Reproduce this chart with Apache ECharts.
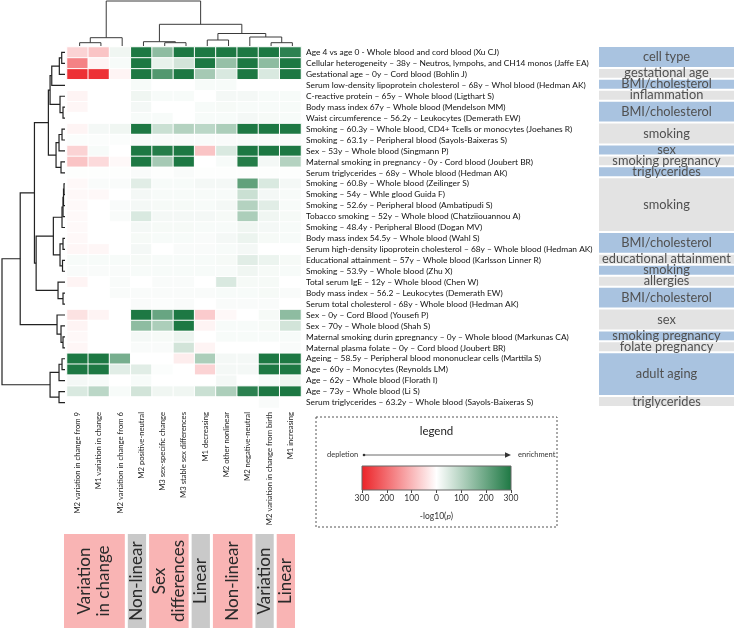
<!DOCTYPE html>
<html><head><meta charset="utf-8">
<script src="https://cdn.jsdelivr.net/npm/echarts@6/dist/echarts.min.js"></script>
<style>html,body{margin:0;padding:0;background:#fff}#c{width:736px;height:629px}</style>
</head><body><div id="c"></div>
<script>
// ---------- DATA ----------
const columns = [
  'M2 variation in change from 9','M1 variation in change','M2 variation in change from 6',
  'M2 positive-neutral','M3 sex-specific change','M3 stable sex differences','M1 decreasing',
  'M2 other nonlinear','M2 negative-neutral','M2 variation in change from birth','M1 increasing'
];
const rows = [
  'Age 4 vs age 0 - Whole blood and cord blood (Xu CJ)',
  'Cellular heterogeneity – 38y – Neutros, lympohs, and CH14 monos (Jaffe EA)',
  'Gestational age – 0y – Cord blood (Bohlin J)',
  'Serum low-density lipoprotein cholesterol – 68y – Whol blood (Hedman AK)',
  'C-reactive protein – 65y – Whole blood (Ligthart S)',
  'Body mass index 67y – Whole blood (Mendelson MM)',
  'Waist circumference – 56.2y – Leukocytes (Demerath EW)',
  'Smoking – 60.3y – Whole blood, CD4+ Tcells or monocytes (Joehanes R)',
  'Smoking – 63.1y – Peripheral blood (Sayols-Baixeras S)',
  'Sex – 53y – Whole blood (Singmann P)',
  'Maternal smoking in pregnancy - 0y - Cord blood (Joubert BR)',
  'Serum triglycerides – 68y – Whole blood (Hedman AK)',
  'Smoking – 60.8y – Whole blood (Zeilinger S)',
  'Smoking – 54y – Whle glood Guida F)',
  'Smoking – 52.6y – Peripheral blood (Ambatipudi S)',
  'Tobacco smoking – 52y – Whole blood (Chatziiouannou A)',
  'Smoking – 48.4y - Peripheral Blood (Dogan MV)',
  'Body mass index 54.5y – Whole blood (Wahl S)',
  'Serum high-density lipoprotein cholesterol – 68y – Whole blood (Hedman AK)',
  'Educational attainment – 57y – Whole blood (Karlsson Linner R)',
  'Smoking – 53.9y – Whole blood (Zhu X)',
  'Total serum IgE – 12y – Whole blood (Chen W)',
  'Body mass index – 56.2 – Leukocytes (Demerath EW)',
  'Serum total cholesterol - 68y - Whole blood (Hedman AK)',
  'Sex – 0y – Cord Blood (Yousefi P)',
  'Sex – 70y – Whole blood (Shah S)',
  'Maternal smoking durin gpregnancy – 0y – Whole blood (Markunas CA)',
  'Maternal plasma folate – 0y – Cord blood (Joubert BR)',
  'Ageing – 58.5y – Peripheral blood mononuclear cells (Marttila S)',
  'Age – 60y – Monocytes (Reynolds LM)',
  'Age – 62y – Whole blood (Florath I)',
  'Age – 73y – Whole blood (Li S)',
  'Serum triglycerides – 63.2y – Whole blood (Sayols-Baixeras S)'
];
// signed -log10(p): negative = depletion, positive = enrichment
const values = [
  [-60,-80,20,300,150,300,300,300,300,300,280],
  [-170,-15,10,300,30,60,300,140,300,150,300],
  [-280,-280,-15,300,230,300,120,50,300,50,300],
  [0,0,0,10,0,0,10,10,0,0,0],
  [-15,0,0,20,10,10,0,15,15,10,10],
  [-12,0,0,15,0,0,10,12,10,10,10],
  [0,0,0,10,10,0,10,10,15,12,10],
  [-15,15,20,300,70,100,90,110,300,300,300],
  [5,5,5,10,8,8,8,8,10,8,8],
  [-60,10,0,300,290,300,-80,50,300,300,300],
  [-80,-50,-10,300,120,300,0,10,290,15,100],
  [3,3,3,8,3,8,3,3,3,3,3],
  [-10,8,8,40,10,10,15,15,210,50,15],
  [-10,-10,0,15,10,10,10,10,70,15,10],
  [-8,0,8,15,12,12,10,15,100,40,10],
  [-8,0,8,50,15,15,15,12,110,20,12],
  [-8,0,0,15,12,12,10,10,20,15,10],
  [-10,0,0,12,10,10,8,15,25,12,10],
  [-12,-12,0,15,0,8,8,10,15,0,0],
  [10,10,10,12,10,10,10,12,40,25,12],
  [8,8,8,10,10,10,10,10,20,12,10],
  [-15,0,8,0,8,8,0,50,12,12,0],
  [0,0,8,8,8,8,8,10,10,12,8],
  [0,0,0,8,5,8,0,8,8,8,0],
  [-40,-15,0,300,200,300,-70,-10,0,12,150],
  [-15,0,0,150,110,300,-15,10,10,12,60],
  [-10,0,0,15,12,25,0,10,10,10,10],
  [-12,0,0,8,8,60,-15,0,0,0,8],
  [300,300,180,0,0,-25,110,15,15,300,300],
  [300,300,40,40,5,0,-60,15,15,300,300],
  [15,10,0,10,0,0,0,15,0,10,20],
  [50,90,10,60,20,20,70,110,280,300,300],
  [0,0,0,0,0,0,0,0,0,8,0]
];
// dendrogram merges: [nodeA, nodeB, height]; leaves are 0..n-1, merge k becomes node n+k
const colMerges = [
  [0,1,3.3],[11,2,8.3],[4,5,3.3],[3,13,4.3],[6,7,6],[9,10,3.3],[8,16,9],[15,17,12.5],[14,18,21.7],[12,19,45]
];
const rowMerges = [
  [0,1,3.3],[33,2,5.7],[34,3,13.3],[5,6,2],[4,36,5],[35,37,15],
  [7,8,3],[39,9,6],[10,11,4],[40,41,9],[38,42,16.7],
  [12,13,1],[44,14,1.5],[45,15,2],[46,16,3],[17,18,2],[19,20,2.5],[48,49,5],[47,50,11.7],
  [22,23,2],[21,52,7],[51,53,29],[43,54,30.7],
  [26,27,2],[25,56,4],[24,57,8],[55,58,45],
  [28,29,3],[60,30,6],[31,32,6],[61,62,15],[59,63,63.3]
];
// row categories: [firstRow, lastRow, label]
const rowGroups = [
  [0,1,'cell type'],[2,2,'gestational age'],[3,3,'BMI/cholesterol'],[4,4,'inflammation'],
  [5,6,'BMI/cholesterol'],[7,8,'smoking'],[9,9,'sex'],[10,10,'smoking pregnancy'],
  [11,11,'triglycerides'],[12,16,'smoking'],[17,18,'BMI/cholesterol'],[19,19,'educational attainment'],
  [20,20,'smoking'],[21,21,'allergies'],[22,23,'BMI/cholesterol'],[24,25,'sex'],
  [26,26,'smoking pregnancy'],[27,27,'folate pregnancy'],[28,31,'adult aging'],[32,32,'triglycerides']
];
// column categories: [firstCol, lastCol, label]
const colGroups = [
  [0,2,'Variation\nin change'],[3,3,'Non-linear'],[4,5,'Sex\ndifferences'],[6,6,'Linear'],
  [7,8,'Non-linear'],[9,9,'Variation'],[10,10,'Linear']
];
const scaleMin = -300, scaleMax = 300, scaleStep = 100;

// ---------- BUILD ----------
const RED = '#ec2227', WHITE = '#ffffff', GREEN = '#1d7843';
const FONT = 'Lato';

function dendroSegments(merges, n) {
  const pos = [], ht = [];
  for (let i = 0; i < n; i++) { pos[i] = i; ht[i] = 0; }
  return merges.map((m, k) => {
    const [a, b, h] = m, id = n + k;
    pos[id] = (pos[a] + pos[b]) / 2; ht[id] = h;
    return [pos[a], ht[a], pos[b], ht[b], h];
  });
}
const colSegs = dendroSegments(colMerges, columns.length);
const rowSegs = dendroSegments(rowMerges, rows.length);

const heatData = [];
values.forEach((r, ri) => r.forEach((v, ci) => heatData.push([ci, ri, v])));

const chart = echarts.init(document.getElementById('c'), null, {renderer: 'canvas'});
const nC = columns.length, nR = rows.length;

chart.setOption({
  animation: false,
  backgroundColor: '#fff',
  textStyle: {fontFamily: FONT},
  grid: [
    {left: 67, right: 435, top: 47, bottom: 221},   // 0 heatmap
    {left: 67, right: 435, top: 1, bottom: 583},    // 1 column dendrogram
    {left: 2, right: 671, top: 47, bottom: 221},    // 2 row dendrogram
    {left: 599, right: 2, top: 47, bottom: 221},    // 3 row categories
    {left: 67, right: 435, top: 534, bottom: 1},    // 4 column categories
    {left: 362, right: 225, top: 466, bottom: 139}  // 5 colour legend
  ],
  xAxis: [
    {gridIndex: 0, type: 'category', data: columns, position: 'bottom',
     axisLine: {show: false}, axisTick: {show: false},
     axisLabel: {rotate: 90, interval: 0, fontSize: 7.7, color: '#222', margin: 4, fontFamily: FONT}},
    {gridIndex: 1, type: 'value', min: -0.5, max: nC - 0.5, show: false},
    {gridIndex: 2, type: 'value', min: 0, max: 63.3, inverse: true, show: false},
    {gridIndex: 3, type: 'value', min: 0, max: 1, show: false},
    {gridIndex: 4, type: 'value', min: -0.5, max: nC - 0.5, show: false},
    {gridIndex: 5, type: 'value', min: scaleMin, max: scaleMax, interval: scaleStep,
     axisLine: {show: false}, splitLine: {show: false},
     axisTick: {show: true, length: 3, lineStyle: {color: '#444'}},
     axisLabel: {formatter: v => Math.abs(v), fontSize: 8.5, color: '#333', margin: 4, fontFamily: FONT},
     name: '{a|-log10(}{b|p}{a|)}', nameLocation: 'middle', nameGap: 22,
     nameTextStyle: {rich: {a: {fontSize: 8.5, color: '#333', fontFamily: FONT},
                             b: {fontSize: 8.5, color: '#333', fontStyle: 'italic', fontFamily: FONT}}}}
  ],
  yAxis: [
    {gridIndex: 0, type: 'category', data: rows, inverse: true, position: 'right',
     axisLine: {show: false}, axisTick: {show: false},
     axisLabel: {interval: 0, fontSize: 8.4, color: '#111', margin: 5, fontFamily: FONT}},
    {gridIndex: 1, type: 'value', min: 0, max: 45, show: false},
    {gridIndex: 2, type: 'value', min: -0.5, max: nR - 0.5, inverse: true, show: false},
    {gridIndex: 3, type: 'value', min: -0.5, max: nR - 0.5, inverse: true, show: false},
    {gridIndex: 4, type: 'value', min: 0, max: 1, show: false},
    {gridIndex: 5, type: 'value', min: 0, max: 1, show: false}
  ],
  visualMap: {
    type: 'continuous', min: scaleMin, max: scaleMax, show: false, seriesIndex: 0, dimension: 2,
    inRange: {color: [RED, WHITE, GREEN]}
  },
  series: [
    {type: 'heatmap', xAxisIndex: 0, yAxisIndex: 0, data: heatData,
     itemStyle: {borderColor: '#fff', borderWidth: 1}, emphasis: {disabled: true}, silent: true},
    {type: 'custom', xAxisIndex: 1, yAxisIndex: 1, data: colSegs, silent: true,
     encode: {x: [0, 2], y: [1, 3, 4]},
     renderItem: (p, api) => {
       const pa = api.value(0), ha = api.value(1), pb = api.value(2), hb = api.value(3), h = api.value(4);
       const pts = [api.coord([pa, ha]), api.coord([pa, h]), api.coord([pb, h]), api.coord([pb, hb])];
       return {type: 'polyline', x: 2, shape: {points: pts}, style: {stroke: '#3a3a3a', lineWidth: 1, fill: null}};
     }},
    {type: 'custom', xAxisIndex: 2, yAxisIndex: 2, data: rowSegs, silent: true,
     encode: {x: [1, 3, 4], y: [0, 2]},
     renderItem: (p, api) => {
       const pa = api.value(0), ha = api.value(1), pb = api.value(2), hb = api.value(3), h = api.value(4);
       const pts = [api.coord([ha, pa]), api.coord([h, pa]), api.coord([h, pb]), api.coord([hb, pb])];
       return {type: 'polyline', shape: {points: pts}, style: {stroke: '#222', lineWidth: 1.2, fill: null}};
     }},
    {type: 'custom', xAxisIndex: 3, yAxisIndex: 3, silent: true,
     data: rowGroups.map(g => [g[0], g[1]]),
     renderItem: (p, api) => {
       const s = api.value(0), e = api.value(1);
       const tl = api.coord([0, s - 0.5]), br = api.coord([1, e + 0.5]);
       const y0 = tl[1], y1 = br[1] - 2, x0 = tl[0], x1 = br[0];
       const blue = p.dataIndex % 2 === 0;
       return {type: 'group', children: [
         {type: 'rect', shape: {x: x0, y: y0, width: x1 - x0, height: y1 - y0},
          style: {fill: blue ? '#a9c3e0' : '#e3e3e3'}},
         {type: 'text', style: {text: rowGroups[p.dataIndex][2], x: (x0 + x1) / 2, y: (y0 + y1) / 2,
          align: 'center', verticalAlign: 'middle', fontSize: 12.8, fill: '#505050', fontFamily: FONT}}
       ]};
     }},
    {type: 'custom', xAxisIndex: 4, yAxisIndex: 4, silent: true,
     data: colGroups.map(g => [g[0], g[1]]),
     renderItem: (p, api) => {
       const s = api.value(0), e = api.value(1);
       const tl = api.coord([s - 0.5, 1]), br = api.coord([e + 0.5, 0]);
       const x0 = tl[0] - 3, x1 = br[0] - 6, y0 = tl[1], y1 = br[1];
       const pink = p.dataIndex % 2 === 0;
       return {type: 'group', children: [
         {type: 'rect', shape: {x: x0, y: y0, width: x1 - x0, height: y1 - y0},
          style: {fill: pink ? '#f9b4b4' : '#c9c9c9'}},
         {type: 'text', x: (x0 + x1) / 2, y: (y0 + y1) / 2, rotation: Math.PI / 2,
          style: {text: colGroups[p.dataIndex][2], x: 0, y: 0, align: 'center', verticalAlign: 'middle',
                  fontSize: 17, lineHeight: 19, fill: '#2a2a2a', fontFamily: FONT}}
       ]};
     }},
    {type: 'custom', xAxisIndex: 5, yAxisIndex: 5, silent: true,
     data: [[scaleMin, scaleMax]],
     renderItem: (p, api) => {
       const a = api.coord([api.value(0), 1]), b = api.coord([api.value(1), 0]);
       return {type: 'rect', shape: {x: a[0], y: a[1], width: b[0] - a[0], height: b[1] - a[1]},
         style: {stroke: '#666', lineWidth: 1,
           fill: {type: 'linear', x: 0, y: 0, x2: 1, y2: 0,
                  colorStops: [{offset: 0, color: RED}, {offset: 0.5, color: WHITE}, {offset: 1, color: GREEN}]}}};
     }}
  ],
  graphic: [
    {type: 'rect', shape: {x: 316, y: 417, width: 241, height: 110},
     style: {fill: null, stroke: '#555', lineWidth: 1, lineDash: [2, 2]}},
    {type: 'text', style: {text: 'legend', x: 436.5, y: 431, align: 'center', verticalAlign: 'middle',
      fontSize: 11.5, fill: '#222', fontFamily: FONT}},
    {type: 'line', shape: {x1: 364, y1: 455, x2: 506, y2: 455}, style: {stroke: '#444', lineWidth: 0.8}},
    {type: 'circle', shape: {cx: 364, cy: 455, r: 1.3}, style: {fill: '#333'}},
    {type: 'polygon', shape: {points: [[511, 455], [505, 452.3], [505, 457.7]]}, style: {fill: '#333'}},
    {type: 'text', style: {text: 'depletion', x: 327, y: 455, align: 'left', verticalAlign: 'middle',
      fontSize: 7.5, fill: '#333', fontFamily: FONT}},
    {type: 'text', style: {text: 'enrichment', x: 518, y: 455, align: 'left', verticalAlign: 'middle',
      fontSize: 7.5, fill: '#333', fontFamily: FONT}}
  ]
});
</script></body></html>
